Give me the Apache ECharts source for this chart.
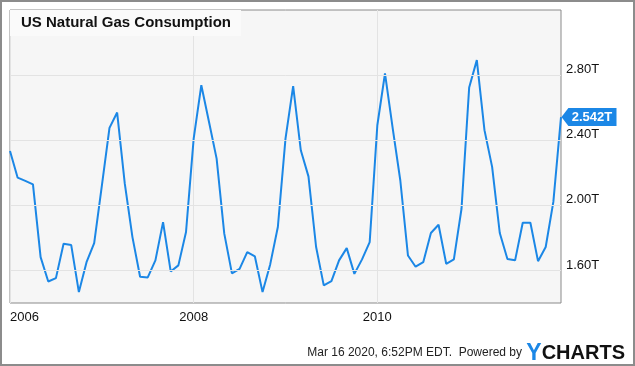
<!DOCTYPE html>
<html>
<head>
<meta charset="utf-8">
<script src="https://cdn.jsdelivr.net/npm/echarts@6/dist/echarts.min.js"></script>
<style>
  html, body { margin: 0; padding: 0; background: #ffffff; }
  #chart { width: 635px; height: 366px; }
</style>
</head>
<body>
<div id="chart"></div>
<script>
// ---- data (trillion cubic feet, monthly Jan 2006 – Jan 2012) ----
const startYear = 2006;
const monthCount = 73;
const months = [];
for (let i = 0; i < monthCount; i++) {
  const y = startYear + Math.floor(i / 12);
  const m = (i % 12) + 1;
  months.push(y + '-' + (m < 10 ? '0' + m : '' + m));
}
const consumption = [
  2.334, 2.170, 2.150, 2.129, 1.682, 1.532, 1.553, 1.764, 1.756, 1.467, 1.651, 1.768,
  2.119, 2.476, 2.570, 2.133, 1.805, 1.561, 1.557, 1.662, 1.897, 1.594, 1.631, 1.836,
  2.410, 2.738, 2.513, 2.287, 1.826, 1.582, 1.610, 1.713, 1.686, 1.467, 1.637, 1.867,
  2.410, 2.732, 2.338, 2.178, 1.744, 1.508, 1.534, 1.662, 1.737, 1.579, 1.668, 1.774,
  2.492, 2.810, 2.476, 2.154, 1.692, 1.623, 1.651, 1.830, 1.881, 1.641, 1.668, 1.979,
  2.724, 2.892, 2.462, 2.236, 1.830, 1.670, 1.662, 1.893, 1.893, 1.657, 1.744, 2.021,
  2.542
];
const xTickLabels = ['2006', '2008', '2010'];
const yTicks = [1.6, 2.0, 2.4, 2.8];
const lastValue = 2.542;

const BLUE = '#1b87e6';
const GRID = '#e3e3e3';
const FONT = '"Liberation Sans", Arial, sans-serif';

const isXTick = (val) => xTickLabels.indexOf(String(val).slice(0, 4)) >= 0 && String(val).slice(5) === '01';

const chart = echarts.init(document.getElementById('chart'), null, { renderer: 'canvas' });
chart.setOption({
  animation: false,
  backgroundColor: '#ffffff',
  textStyle: { fontFamily: FONT },
  title: {
    text: 'US Natural Gas Consumption',
    left: 10, top: 10,
    padding: [5, 10, 5, 11],
    backgroundColor: '#fafafa',
    textStyle: { fontFamily: FONT, fontSize: 15, fontWeight: 'bold', color: '#111', lineHeight: 16 }
  },
  grid: {
    left: 10, right: 74, top: 10, bottom: 63,
    show: true, backgroundColor: '#f6f6f6', borderColor: '#8a8a8a', borderWidth: 1,
    containLabel: false
  },
  xAxis: {
    type: 'category',
    data: months,
    boundaryGap: false,
    axisLine: { show: false },
    axisTick: { show: false },
    axisLabel: {
      interval: (idx, val) => isXTick(val),
      formatter: (val) => String(val).slice(0, 4),
      alignMinLabel: 'left',
      color: '#111', fontSize: 13, fontFamily: FONT, margin: 8
    },
    splitLine: {
      show: true,
      interval: (idx, val) => isXTick(val),
      lineStyle: { color: GRID, width: 1 }
    }
  },
  yAxis: {
    type: 'value',
    position: 'right',
    min: 1.4, max: 3.2, interval: 0.2,
    axisLine: { show: false },
    axisTick: { show: false },
    splitLine: { show: false },
    axisLabel: {
      formatter: (v) => yTicks.some(t => Math.abs(t - v) < 1e-6) ? v.toFixed(2) + 'T' : '',
      verticalAlign: 'bottom',
      lineHeight: 11,
      color: '#111', fontSize: 13, fontFamily: FONT, margin: 5
    }
  },
  series: [
    {
      type: 'line',
      data: [],
      z: 1,
      silent: true,
      markLine: {
        silent: true,
        symbol: 'none',
        label: { show: false },
        lineStyle: { color: GRID, width: 1, type: 'solid' },
        data: yTicks.map(v => ({ yAxis: v }))
      }
    },
    {
      type: 'line',
      data: consumption,
      z: 3,
      symbol: 'none',
      lineStyle: { color: BLUE, width: 2 },
      markPoint: {
        silent: true,
        symbol: 'path://M0,9 L7,0 L56,0 L56,18 L7,18 Z',
        symbolSize: [55, 18],
        symbolOffset: [28, 0],
        itemStyle: { color: BLUE },
        label: {
          show: true,
          offset: [3, 0],
          color: '#ffffff', fontWeight: 'bold', fontSize: 13, fontFamily: FONT,
          formatter: (p) => p.value.toFixed(3) + 'T'
        },
        data: [{ coord: [months[months.length - 1], lastValue], value: lastValue }]
      }
    }
  ],
  graphic: [
    {
      type: 'rect', silent: true,
      shape: { x: 1, y: 1, width: 633, height: 364 },
      style: { fill: 'none', stroke: '#8c8c8c', lineWidth: 2 }
    },
    {
      type: 'text', silent: true,
      right: 113, top: 347,
      style: { text: 'Mar 16 2020, 6:52PM EDT.  Powered by', fill: '#222', font: '12px ' + FONT }
    },
    {
      type: 'text', silent: true,
      right: 10, top: 342,
      style: {
        text: '{y|Y}{c|CHARTS}',
        rich: {
          y: { fill: BLUE, fontSize: 23, fontWeight: 'bold', fontFamily: FONT },
          c: { fill: '#111', fontSize: 20, fontWeight: 'bold', fontFamily: FONT }
        }
      }
    }
  ]
});
</script>
</body>
</html>
